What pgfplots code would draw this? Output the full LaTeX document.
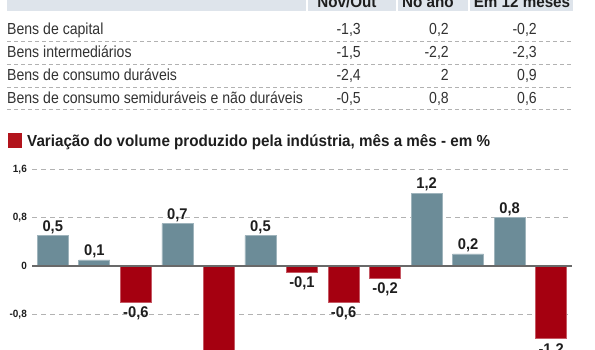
\documentclass[border=0pt]{standalone}
\usepackage{pgfplots}
\pgfplotsset{compat=1.18}
\usepackage{pgfplotstable}
\usepackage{fontspec}
\setmainfont{Liberation Sans}[FakeStretch=0.88]
\newfontfamily\tfont{Liberation Sans}[FakeStretch=0.95]
\definecolor{barblue}{RGB}{108,140,152}
\definecolor{barred}{RGB}{165,0,16}
\definecolor{sqred}{RGB}{178,20,28}
\definecolor{hdr}{RGB}{222,228,235}
\definecolor{gridv}{RGB}{208,208,208}
\definecolor{gridh}{RGB}{178,178,178}
\definecolor{zeroc}{RGB}{105,105,105}
\definecolor{txt}{RGB}{30,30,30}
\definecolor{tabtxt}{RGB}{50,50,50}

\pgfplotstableread{
x y lab
1 0.5 0,5
2 0.1 0,1
4 0.7 0,7
6 0.5 0,5
10 1.2 1,2
11 0.2 0,2
12 0.8 0,8
}\posdata
\pgfplotstableread{
x y lab
3 -0.6 -0,6
5 -1.8 -1,8
7 -0.1 -0,1
8 -0.6 -0,6
9 -0.2 -0,2
13 -1.2 -1,2
}\negdata

\begin{document}
\begin{tikzpicture}[x=1pt,y=1pt]
\useasboundingbox (0,0) rectangle (595,-350);
\clip (0,0) rectangle (595,-350);
% header band
\fill[hdr] (7,6) rectangle (573,-11);
\foreach \xx in {307,397,469} \draw[white, line width=1.6pt] (\xx,6) -- (\xx,-11);
\begin{scope}[every node/.style={inner sep=0pt, text=txt}]
\node[anchor=base] at (347,-7.3) {\tfont\bfseries\fontsize{16}{16}\selectfont Nov/Out};
\node[anchor=base] at (428,-7.3) {\tfont\bfseries\fontsize{16}{16}\selectfont No ano};
\node[anchor=base] at (522,-7.3) {\tfont\bfseries\fontsize{16}{16}\selectfont Em 12 meses};
\end{scope}
% table rows
\begin{scope}[every node/.style={inner sep=0pt, text=tabtxt, font=\fontsize{16}{16}\selectfont}]
\node[anchor=base west] at (7,-34.3) {Bens de capital};
\node[anchor=base west] at (7,-57.3) {Bens intermediários};
\node[anchor=base west] at (7,-80.3) {Bens de consumo duráveis};
\node[anchor=base west] at (7,-103.3) {Bens de consumo semiduráveis e não duráveis};
\node[anchor=base east] at (361,-34.3) {-1,3};
\node[anchor=base east] at (449,-34.3) {0,2};
\node[anchor=base east] at (537,-34.3) {-0,2};
\node[anchor=base east] at (361,-57.3) {-1,5};
\node[anchor=base east] at (449,-57.3) {-2,2};
\node[anchor=base east] at (537,-57.3) {-2,3};
\node[anchor=base east] at (361,-80.3) {-2,4};
\node[anchor=base east] at (449,-80.3) {2};
\node[anchor=base east] at (537,-80.3) {0,9};
\node[anchor=base east] at (361,-103.3) {-0,5};
\node[anchor=base east] at (449,-103.3) {0,8};
\node[anchor=base east] at (537,-103.3) {0,6};
\end{scope}
\foreach \yy in {41.5,64.3,87.1,109.9}
  \draw[gridh, line width=0.9pt, dash pattern=on 4pt off 3pt] (7,-\yy) -- (573,-\yy);
% title
\fill[sqred] (8,-133) rectangle (22,-148);
\node[anchor=base west, inner sep=0pt, text=txt] at (27,-146.5)
  {\tfont\bfseries\fontsize{16}{16}\selectfont Variação do volume produzido pela indústria, mês a mês - em \%};
\begin{axis}[
  at={(32pt,-169.2pt)}, anchor=north west,
  scale only axis, width=540pt, height=193.6pt,
  xmin=0.5, xmax=13.5, ymin=-1.6, ymax=1.6,
  axis line style={draw=none},
  xtick=\empty,
  minor xtick={0.5,1.5,...,13.5},
  xminorgrids=true,
  minor grid style={gridv, line width=1.3pt},
  ytick={-0.8,0,0.8,1.6},
  yticklabels={{-0,8},{0},{0,8},{1,6}},
  ymajorgrids=true,
  major grid style={gridh, line width=1pt, dash pattern=on 5pt off 4pt},
  major tick length=0pt, minor tick length=0pt,
  yticklabel style={inner sep=0pt, xshift=-5pt, text=txt, font=\tfont\bfseries\fontsize{10.5}{12}\selectfont},
  ybar, bar width=31pt,
  nodes near coords,
  point meta=explicit symbolic,
  every node near coord/.append style={font=\tfont\bfseries\fontsize{15.5}{16}\selectfont, text=txt, inner sep=1.8pt},
]
\addplot[bar shift=0pt, fill=barblue, draw=barblue!65!white, line width=0.7pt] table[x=x,y=y,meta=lab] {\posdata};
\addplot[bar shift=0pt, fill=barred, draw=barred!65!white, line width=0.7pt,
  every node near coord/.append style={anchor=north, yshift=-2.5pt}] table[x=x,y=y,meta=lab] {\negdata};
\draw[zeroc, line width=2pt] (axis cs:0.5,0) -- (axis cs:13.5,0);
\end{axis}
\end{tikzpicture}
\end{document}
